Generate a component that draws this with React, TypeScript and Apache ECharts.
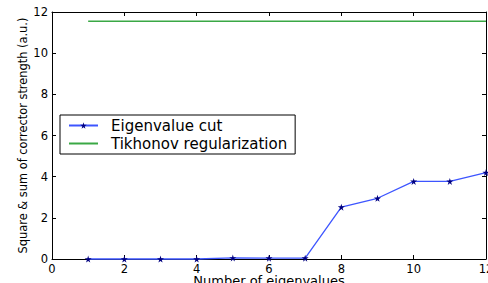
import React, { useEffect, useRef } from "react";
import * as echarts from "echarts";

const eigenX = [1, 2, 3, 4, 5, 6, 7, 8, 9, 10, 11, 12];
const eigenCut = [0.0, 0.0, 0.0, 0.0, 0.05, 0.04, 0.04, 2.52, 2.95, 3.77, 3.77, 4.2];
const tikhonovX = [1, 12];
const tikhonovVal = [11.55, 11.55];

const FONT = "DejaVu Sans";

export default function App() {
  const ref = useRef<HTMLDivElement>(null);
  useEffect(() => {
    const chart = echarts.init(ref.current!, null, { renderer: "svg" });
    const axisCommon = {
      min: 0,
      max: 12,
      interval: 2,
      axisLine: { show: true, onZero: false, lineStyle: { color: "#000", width: 1 } },
      axisTick: { show: true, inside: true, length: 4, lineStyle: { color: "#000" } },
      splitLine: { show: false },
    };
    chart.setOption({
      animation: false,
      grid: { left: 52, right: 2, top: 12, bottom: 24, containLabel: false, outerBoundsMode: "none" },
      textStyle: { fontFamily: FONT },
      xAxis: [
        {
          ...axisCommon,
          type: "value",
          position: "bottom",
          axisLabel: { color: "#000", fontSize: 11.5, lineHeight: 11, fontFamily: FONT, margin: 4 },
          name: "Number of eigenvalues",
          nameLocation: "middle",
          nameGap: 15,
          nameMoveOverlap: false,
          nameTextStyle: { color: "#000", fontSize: 13, lineHeight: 13, fontFamily: FONT },
        },
        {
          ...axisCommon,
          type: "value",
          position: "top",
          axisLabel: { show: false },
        },
      ],
      yAxis: [
        {
          ...axisCommon,
          type: "value",
          position: "left",
          axisLabel: { color: "#000", fontSize: 11.5, fontFamily: FONT, margin: 4 },
          name: "Square & sum of corrector strength (a.u.)",
          nameLocation: "middle",
          nameGap: 24,
          nameMoveOverlap: false,
          nameTextStyle: { color: "#000", fontSize: 11.4, fontFamily: FONT },
        },
        {
          ...axisCommon,
          type: "value",
          position: "right",
          axisLabel: { show: false },
        },
      ],
      legend: {
        orient: "vertical",
        left: 60,
        top: 115,
        backgroundColor: "#fff",
        borderColor: "#000",
        borderWidth: 1,
        borderRadius: 0,
        padding: [3, 8, 3, 8],
        itemGap: 3,
        itemWidth: 29,
        itemHeight: 8,
        textStyle: { color: "#000", fontSize: 15, fontFamily: FONT, padding: [0, 0, 0, 8] },
        data: ["Eigenvalue cut", "Tikhonov regularization"],
      },
      series: [
        {
          name: "Eigenvalue cut",
          type: "line",
          data: eigenX.map((x, i) => [x, eigenCut[i]]),
          symbol: "path://M50,0 L61,35 L98,35 L68,57 L79,91 L50,70 L21,91 L32,57 L2,35 L39,35 Z",
          symbolSize: 7,
          showSymbol: true,
          itemStyle: { color: "#000080" },
          lineStyle: { color: "#3d55ff", width: 1.3 },
          clip: false,
        },
        {
          name: "Tikhonov regularization",
          type: "line",
          data: tikhonovX.map((x, i) => [x, tikhonovVal[i]]),
          symbol: "none",
          itemStyle: { color: "#3aa845", opacity: 0 },
          lineStyle: { color: "#3aa845", width: 1.3 },
        },
      ],
    });
    return () => chart.dispose();
  }, []);
  return (
    <div
      ref={ref}
      style={{ position: "fixed", left: 0, top: 0, width: 488, height: 283, background: "#fff" }}
    />
  );
}
